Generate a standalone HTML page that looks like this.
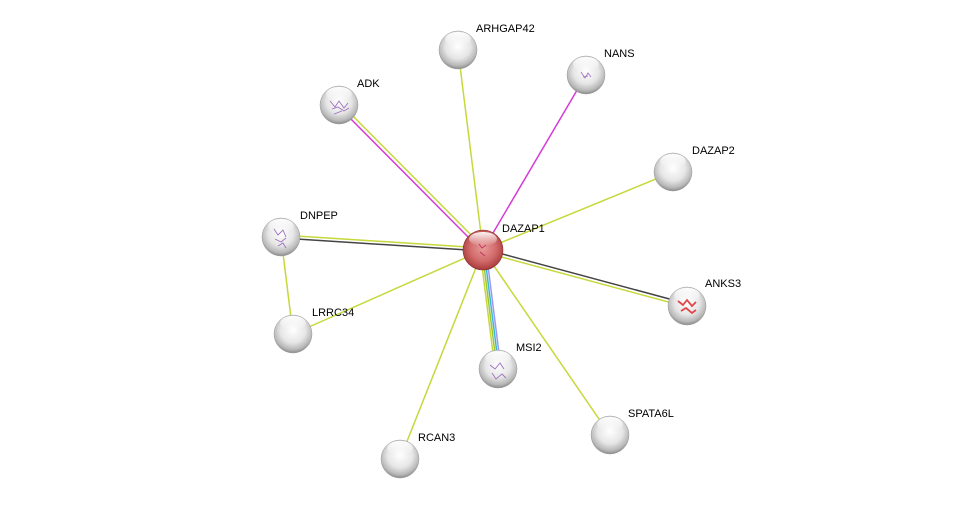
<!DOCTYPE html>
<html><head><meta charset="utf-8"><style>
html,body{margin:0;padding:0;background:#fff;}
svg{display:block;}
text{font-family:"Liberation Sans",sans-serif;font-size:11px;fill:#000;}
</style></head><body>
<svg width="976" height="505" viewBox="0 0 976 505" xmlns="http://www.w3.org/2000/svg">
<defs>
<radialGradient id="g" cx="50%" cy="40%" r="60%">
<stop offset="0%" stop-color="#ffffff"/><stop offset="55%" stop-color="#e6e6e6"/><stop offset="85%" stop-color="#b8b8b8"/><stop offset="100%" stop-color="#8a8a8a"/>
</radialGradient>
<radialGradient id="r" cx="50%" cy="45%" r="60%">
<stop offset="0%" stop-color="#e89a9a"/><stop offset="55%" stop-color="#d26a6a"/><stop offset="85%" stop-color="#b04444"/><stop offset="100%" stop-color="#7a2020"/>
</radialGradient>
<linearGradient id="hl" x1="0" y1="0" x2="0" y2="1">
<stop offset="0%" stop-color="#fff" stop-opacity="0.95"/><stop offset="100%" stop-color="#fff" stop-opacity="0"/>
</linearGradient>
<g id="sh"><ellipse cx="0" cy="0" rx="13" ry="7" fill="url(#hl)" transform="translate(0,-11)"/></g>
</defs>
<g stroke-width="1.5" fill="none">
<!-- ARHGAP42 -->
<line x1="483" y1="250" x2="458" y2="50" stroke="#c6d83a"/>
<!-- NANS -->
<line x1="483" y1="250" x2="586" y2="75" stroke="#d63ad6"/>
<!-- ADK -->
<line x1="485" y1="249" x2="341" y2="104" stroke="#c6d83a"/>
<line x1="482" y1="251" x2="338" y2="106" stroke="#d63ad6"/>
<!-- DAZAP2 -->
<line x1="483" y1="250" x2="673" y2="172" stroke="#c6d83a"/>
<!-- DNPEP -->
<line x1="483" y1="248" x2="281" y2="235" stroke="#c6d83a"/>
<line x1="483" y1="251" x2="281" y2="238" stroke="#444"/>
<!-- ANKS3 -->
<line x1="483" y1="252" x2="687" y2="307" stroke="#c6d83a"/>
<line x1="484" y1="249" x2="688" y2="304" stroke="#444"/>
<!-- LRRC34 -->
<line x1="483" y1="250" x2="293" y2="334" stroke="#c6d83a"/>
<line x1="281" y1="237" x2="293" y2="334" stroke="#c6d83a"/>
<!-- MSI2 -->
<line x1="480" y1="250" x2="495" y2="369" stroke="#c6d83a"/>
<line x1="482" y1="250" x2="497" y2="369" stroke="#a0c43a"/>
<line x1="484" y1="250" x2="499" y2="369" stroke="#3ab8d8"/>
<line x1="486" y1="250" x2="501" y2="369" stroke="#9a9af0"/>
<!-- SPATA6L -->
<line x1="483" y1="250" x2="610" y2="435" stroke="#c6d83a"/>
<!-- RCAN3 -->
<line x1="483" y1="250" x2="400" y2="459" stroke="#c6d83a"/>
</g>
<g>
<g transform="translate(458,50)"><circle r="19" fill="url(#g)" stroke="#999" stroke-width="0.5"/><use href="#sh"/></g>
<g transform="translate(586,75)"><circle r="19" fill="url(#g)" stroke="#999" stroke-width="0.5"/><use href="#sh"/><path d="M-5,-3 l4,6 l3,-5 l3,4 M-3,2 l5,-1" stroke="#a070c0" stroke-width="0.8" fill="none"/></g>
<g transform="translate(339,105)"><circle r="19" fill="url(#g)" stroke="#999" stroke-width="0.5"/><use href="#sh"/><path d="M-9,-4 l5,6 l4,-6 l5,7 l4,-5 M-7,4 l6,-2 l6,4 l5,-3 M-5,9 l8,-3" stroke="#a070c0" stroke-width="0.9" fill="none"/></g>
<g transform="translate(673,172)"><circle r="19" fill="url(#g)" stroke="#999" stroke-width="0.5"/><use href="#sh"/></g>
<g transform="translate(281,237)"><circle r="19" fill="url(#g)" stroke="#999" stroke-width="0.5"/><use href="#sh"/><path d="M-7,-8 l4,6 l5,-5 l3,7 M-6,2 l6,3 l5,-4 M-3,9 l5,-3 l3,5" stroke="#a070c0" stroke-width="0.9" fill="none"/></g>
<g transform="translate(687,306)"><circle r="19" fill="url(#g)" stroke="#999" stroke-width="0.5"/><use href="#sh"/><path d="M-9,-5 l5,4 l4,-5 l5,6 l4,-4 M-6,5 l5,-3 l6,5 l4,-3" stroke="#e04848" stroke-width="1.8" fill="none"/></g>
<g transform="translate(293,334)"><circle r="19" fill="url(#g)" stroke="#999" stroke-width="0.5"/><use href="#sh"/></g>
<g transform="translate(498,369)"><circle r="19" fill="url(#g)" stroke="#999" stroke-width="0.5"/><use href="#sh"/><path d="M-8,-4 l5,4 l5,-6 l4,6 M-6,4 l4,6 l6,-5 l4,4" stroke="#a070c0" stroke-width="0.9" fill="none"/></g>
<g transform="translate(610,435)"><circle r="19" fill="url(#g)" stroke="#999" stroke-width="0.5"/><use href="#sh"/></g>
<g transform="translate(400,459)"><circle r="19" fill="url(#g)" stroke="#999" stroke-width="0.5"/><use href="#sh"/></g>
<g transform="translate(483,250)"><circle r="20" fill="url(#r)" stroke="#8a3030" stroke-width="0.6"/><ellipse cx="0" cy="-11" rx="14" ry="7" fill="url(#hl)"/><path d="M-4,-6 l3,4 l4,-3 M-3,2 l5,4" stroke="#c03060" stroke-width="0.9" fill="none"/></g>
</g>
<text x="476" y="32">ARHGAP42</text>
<text x="604" y="57">NANS</text>
<text x="357" y="87">ADK</text>
<text x="692" y="154">DAZAP2</text>
<text x="300" y="219">DNPEP</text>
<text x="502" y="232">DAZAP1</text>
<text x="705" y="287">ANKS3</text>
<text x="312" y="316">LRRC34</text>
<text x="516" y="351">MSI2</text>
<text x="628" y="417">SPATA6L</text>
<text x="418" y="441">RCAN3</text>
</svg>
</body></html>
